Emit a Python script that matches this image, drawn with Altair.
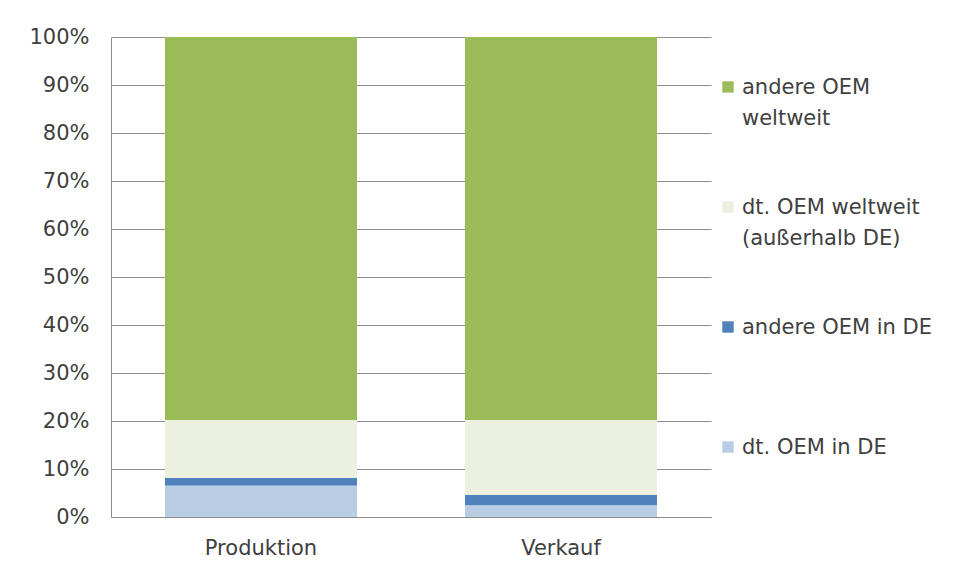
import altair as alt
import pandas as pd

categories = ["Produktion", "Verkauf"]
series = ["andere OEM weltweit", "dt. OEM weltweit (außerhalb DE)", "andere OEM in DE", "dt. OEM in DE"]
legend_labels = ["andere OEM\nweltweit", "dt. OEM weltweit\n(außerhalb DE)", "andere OEM in DE", "dt. OEM in DE"]
colors = ["#9BBB59", "#EBF1DE", "#4F81BD", "#B9CDE5"]
stack_order = [4, 3, 2, 1]

andere_weltweit = [79.8, 79.8]
dt_weltweit = [12.1, 15.6]
andere_de = [1.6, 2.2]
dt_de = [6.5, 2.4]

values = [andere_weltweit, dt_weltweit, andere_de, dt_de]
rows = []
for s, vals, o in zip(series, values, stack_order):
    for c, v in zip(categories, vals):
        rows.append({"Kategorie": c, "Serie": s, "Wert": v / 100.0, "ord": o})
df = pd.DataFrame(rows)

leg = pd.DataFrame({"Serie": series, "Label": legend_labels})

FONT = "DejaVu Sans"
TXT = "#404040"
GRID = "#8c8c8c"

color_scale = alt.Scale(domain=series, range=colors)
noview = alt.ViewBackground(stroke="transparent", strokeWidth=0)

bars = alt.Chart(df).mark_bar(size=192).encode(
    x=alt.X("Kategorie:N", sort=categories, title=None,
            scale=alt.Scale(paddingInner=0.36, paddingOuter=0.18),
            axis=alt.Axis(labelAngle=0, ticks=False, domainColor=GRID, labelPadding=20,
                          labelFontSize=21, labelFont=FONT, labelColor=TXT)),
    y=alt.Y("Wert:Q", stack="zero", title=None,
            scale=alt.Scale(domain=[0, 1], nice=False),
            axis=alt.Axis(format=".0%", values=[i / 10 for i in range(11)], ticks=False,
                          labelPadding=22, labelFontSize=21, labelFont=FONT, labelColor=TXT,
                          gridColor=GRID, domainColor=GRID, minExtent=103, maxExtent=103)),
    color=alt.Color("Serie:N", scale=color_scale, legend=None),
    order=alt.Order("ord:Q", sort="ascending"),
).properties(width=600, height=480, view=noview)

legend_y = alt.Y("Serie:N", sort=series, axis=None, scale=alt.Scale(paddingInner=0, paddingOuter=0))

leg_sym = alt.Chart(leg).mark_square(size=130, opacity=1, yOffset=-10).encode(
    x=alt.value(17),
    y=legend_y,
    color=alt.Color("Serie:N", scale=color_scale, legend=None),
)
leg_txt = alt.Chart(leg).mark_text(align="left", baseline="alphabetic", dy=-3, lineBreak="\n",
                                   lineHeight=31, fontSize=21, font=FONT, color=TXT).encode(
    x=alt.value(31),
    y=legend_y,
    text="Label:N",
)
legend = alt.layer(leg_sym, leg_txt).properties(width=228, height=480, view=noview)

chart = alt.hconcat(bars, legend, spacing=0).properties(
    padding={"left": 0, "top": 18, "right": 0, "bottom": 0}
).configure_view(strokeWidth=0, stroke="transparent").configure(background="white")

chart.save("out.html", embed_options={"renderer": "svg", "actions": False})
